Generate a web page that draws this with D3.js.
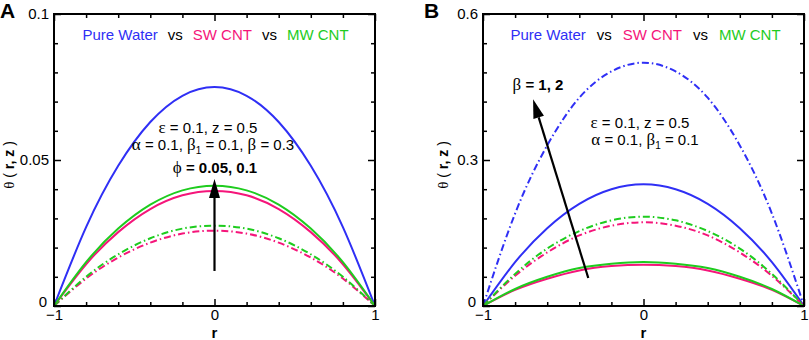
<!DOCTYPE html>
<html>
<head>
<meta charset="utf-8">
<script src="https://cdn.jsdelivr.net/npm/d3@7"></script>
<style>
  body { margin: 0; background: #fff; }
  svg { font-family: "Liberation Sans", Arial, sans-serif; }
  .greek { font-family: "Liberation Serif", "DejaVu Serif", serif; }
</style>
</head>
<body>
<svg id="chart" width="809" height="340"></svg>
<script>
// radial positions
const rValues = [-1, -0.8, -0.6, -0.4, -0.2, 0, 0.2, 0.4, 0.6, 0.8, 1];

// panel A: phi = 0.05 (dash-dot) and phi = 0.1 (solid)
const aPureWater = [0, 0.027, 0.048, 0.063, 0.072, 0.075, 0.072, 0.063, 0.048, 0.027, 0];
const aSwSolid   = [0, 0.0143, 0.0253, 0.0332, 0.0379, 0.0394, 0.0379, 0.0332, 0.0253, 0.0143, 0];
const aMwSolid   = [0, 0.0150, 0.0265, 0.0347, 0.0396, 0.0412, 0.0396, 0.0347, 0.0265, 0.0150, 0];
const aSwDash    = [0, 0.0094, 0.0166, 0.0217, 0.0248, 0.0258, 0.0248, 0.0217, 0.0166, 0.0094, 0];
const aMwDash    = [0, 0.0100, 0.0177, 0.0232, 0.0265, 0.0275, 0.0265, 0.0232, 0.0177, 0.0100, 0];

// panel B: beta = 1 (solid) and beta = 2 (dash-dot)
const bPureSolid = [0, 0.090, 0.160, 0.210, 0.240, 0.250, 0.240, 0.210, 0.160, 0.090, 0];
const bPureDash  = [0, 0.190, 0.330, 0.428, 0.482, 0.500, 0.482, 0.428, 0.330, 0.190, 0];
const bSwSolid   = [0, 0.033, 0.056, 0.073, 0.082, 0.0849, 0.082, 0.073, 0.056, 0.033, 0];
const bMwSolid   = [0, 0.035, 0.060, 0.078, 0.087, 0.0904, 0.087, 0.078, 0.060, 0.035, 0];
const bSwDash    = [0, 0.062, 0.110, 0.145, 0.165, 0.172, 0.165, 0.145, 0.110, 0.062, 0];
const bMwDash    = [0, 0.066, 0.118, 0.154, 0.176, 0.1835, 0.176, 0.154, 0.118, 0.066, 0];

const xTicks = [-1, 0, 1];
const xMinor = [-0.8, -0.6, -0.4, -0.2, 0.2, 0.4, 0.6, 0.8];
const aYTicks = [0, 0.05, 0.1];
const aYMinor = [0.01, 0.02, 0.03, 0.04, 0.06, 0.07, 0.08, 0.09];
const bYTicks = [0, 0.3, 0.6];
const bYMinor = [0.06, 0.12, 0.18, 0.24, 0.36, 0.42, 0.48, 0.54];

const BLUE = "#2f2ff5", PINK = "#f5157a", GREEN = "#1ecc1e";
const DASHDOT = "7,3,1.5,3";

const svg = d3.select("#chart");

function panel(opt) {
  const x = d3.scaleLinear().domain([-1, 1]).range([opt.left, opt.right]);
  const y = d3.scaleLinear().domain([0, opt.yMax]).range([306, 14]);
  const g = svg.append("g");

  // curves
  const line = d3.line()
    .x(function(d) { return x(d[0]); })
    .y(function(d) { return y(d[1]); })
    .curve(d3.curveNatural);
  opt.series.forEach(function(s) {
    g.append("path")
      .datum(rValues.map(function(r, i) { return [r, s.values[i]]; }))
      .attr("fill", "none")
      .attr("stroke", s.color)
      .attr("stroke-width", 2)
      .attr("stroke-dasharray", s.dash || null)
      .attr("d", line);
  });

  // ticks pointing inward
  function axis(gen, transform, size, labels) {
    const a = g.append("g").attr("transform", transform)
      .call(gen.tickSize(size).tickPadding(labels ? -size + 4 : 0));
    a.select(".domain").remove();
    a.selectAll("line").attr("stroke", "#000").attr("stroke-width", 1.5);
    a.selectAll("text").attr("fill", "#000").style("font-size", "15px");
    if (!labels) a.selectAll("text").remove();
    return a;
  }
  axis(d3.axisLeft(y).tickValues(opt.yTicks).tickFormat(d3.format("")), "translate(" + opt.left + ",0)", -7, true)
    .selectAll("text")
    .attr("x", function(d) { return d === 0 ? -7 : -5; })
    .attr("dy", function(d) { return d === 0 ? "0em" : "0.32em"; });
  axis(d3.axisLeft(y).tickValues(opt.yMinor), "translate(" + opt.left + ",0)", -4, false);
  axis(d3.axisRight(y).tickValues(opt.yTicks), "translate(" + opt.right + ",0)", -7, false);
  axis(d3.axisRight(y).tickValues(opt.yMinor), "translate(" + opt.right + ",0)", -4, false);
  axis(d3.axisBottom(x).tickValues(xTicks).tickFormat(d3.format("")), "translate(0,306)", -7, true)
    .selectAll("text").attr("y", 3).attr("dy", "0.71em");
  axis(d3.axisBottom(x).tickValues(xMinor), "translate(0,306)", -4, false);
  axis(d3.axisTop(x).tickValues(xTicks), "translate(0,14)", -7, false);
  axis(d3.axisTop(x).tickValues(xMinor), "translate(0,14)", -4, false);

  // frame
  g.append("rect")
    .attr("x", opt.left).attr("y", 14)
    .attr("width", opt.right - opt.left).attr("height", 292)
    .attr("fill", "none").attr("stroke", "#000").attr("stroke-width", 2);

  // panel letter
  g.append("text").attr("x", opt.letterX).attr("y", 18)
    .style("font-size", "21px").style("font-weight", "bold").text(opt.letter);

  // header
  const head = g.append("text").attr("x", (opt.left + opt.right) / 2 + opt.headShift).attr("y", 40)
    .attr("text-anchor", "middle").style("font-size", "15px");
  head.append("tspan").attr("fill", BLUE).text("Pure Water");
  head.append("tspan").attr("fill", "#000").attr("dx", opt.headGap).text("vs");
  head.append("tspan").attr("fill", PINK).attr("dx", opt.headGap).text("SW CNT");
  head.append("tspan").attr("fill", "#000").attr("dx", opt.headGap).text("vs");
  head.append("tspan").attr("fill", GREEN).attr("dx", opt.headGap).text("MW CNT");

  // axis titles
  const yl = g.append("text")
    .attr("transform", "translate(" + opt.yLabelX + ",165) rotate(-90)")
    .attr("text-anchor", "middle").style("font-size", "14px").attr("xml:space", "preserve");
  yl.append("tspan").attr("class", "greek").style("font-size", "15px").text("θ");
  yl.append("tspan").text(" ( ");
  yl.append("tspan").style("font-weight", "bold").text("r, z");
  yl.append("tspan").text(" )");
  g.append("text").attr("x", x(0)).attr("y", 338).attr("text-anchor", "middle")
    .style("font-size", "15px").style("font-weight", "bold").text("r");

  // arrow
  const a0 = [x(opt.arrow[0][0]), y(opt.arrow[0][1])];
  const a1 = [x(opt.arrow[1][0]), y(opt.arrow[1][1])];
  const ang = Math.atan2(a1[1] - a0[1], a1[0] - a0[0]);
  const hl = 19, hw = 5.5;
  const base = [a1[0] - hl * Math.cos(ang), a1[1] - hl * Math.sin(ang)];
  g.append("line").attr("x1", a0[0]).attr("y1", a0[1]).attr("x2", base[0]).attr("y2", base[1])
    .attr("stroke", "#000").attr("stroke-width", 2.2);
  g.append("path")
    .attr("d", "M" + a1[0] + "," + a1[1] +
      "L" + (base[0] + hw * Math.sin(ang)) + "," + (base[1] - hw * Math.cos(ang)) +
      "L" + (base[0] - hw * Math.sin(ang)) + "," + (base[1] + hw * Math.cos(ang)) + "Z")
    .attr("fill", "#000");

  return { x: x, y: y, g: g };
}

function greekText(g, xp, yp, parts, size) {
  const t = g.append("text").attr("x", xp).attr("y", yp).attr("text-anchor", "middle")
    .style("font-size", size + "px").attr("xml:space", "preserve");
  parts.forEach(function(p) {
    const s = t.append("tspan").text(p.t);
    if (p.greek) s.attr("class", "greek").style("font-size", (size + 2) + "px");
    if (p.bold) s.style("font-weight", "bold");
    if (p.sub) s.attr("dy", 4).style("font-size", "10px");
    if (p.unsub) s.attr("dy", -4);
  });
  return t;
}

const pA = panel({
  left: 54, right: 375, yMax: 0.1, letter: "A", letterX: 0, headShift: 1, headGap: 10, yLabelX: 14,
  yTicks: aYTicks, yMinor: aYMinor,
  arrow: [[0, 0.012], [0, 0.0435]],
  series: [
    { values: aPureWater, color: BLUE },
    { values: aSwDash, color: PINK, dash: DASHDOT },
    { values: aMwDash, color: GREEN, dash: DASHDOT },
    { values: aSwSolid, color: PINK },
    { values: aMwSolid, color: GREEN }
  ]
});
greekText(pA.g, 208, 133, [{ t: "ε", greek: true }, { t: " = 0.1, z = 0.5" }], 15);
greekText(pA.g, 213, 150, [{ t: "α", greek: true }, { t: " = 0.1, " }, { t: "β", greek: true },
  { t: "1", sub: true }, { t: " = 0.1, ", unsub: true }, { t: "β", greek: true }, { t: " = 0.3" }], 15);
greekText(pA.g, 215, 173, [{ t: "ϕ", greek: true }, { t: " = 0.05, 0.1", bold: true }], 15);

const pB = panel({
  left: 483, right: 804, yMax: 0.6, letter: "B", letterX: 424, headShift: 2, headGap: 11, yLabelX: 448,
  yTicks: bYTicks, yMinor: bYMinor,
  arrow: [[-0.344, 0.0575], [-0.688, 0.425]],
  series: [
    { values: bPureDash, color: BLUE, dash: DASHDOT },
    { values: bPureSolid, color: BLUE },
    { values: bSwDash, color: PINK, dash: DASHDOT },
    { values: bMwDash, color: GREEN, dash: DASHDOT },
    { values: bSwSolid, color: PINK },
    { values: bMwSolid, color: GREEN }
  ]
});
greekText(pB.g, 640, 128, [{ t: "ε", greek: true }, { t: " = 0.1, z = 0.5" }], 15);
greekText(pB.g, 645, 145, [{ t: "α", greek: true }, { t: " = 0.1, " }, { t: "β", greek: true },
  { t: "1", sub: true }, { t: " = 0.1", unsub: true }], 15);
greekText(pB.g, 538, 90, [{ t: "β", greek: true }, { t: " = 1, 2", bold: true }], 15);
</script>
</body>
</html>
